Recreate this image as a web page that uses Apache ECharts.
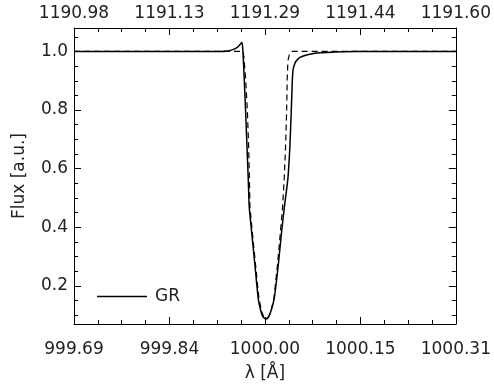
<!DOCTYPE html>
<html>
<head>
<meta charset="utf-8">
<script src="https://cdn.jsdelivr.net/npm/echarts@6/dist/echarts.min.js"></script>
<style>
  html, body { margin: 0; padding: 0; background: #fff; }
  #chart { width: 494px; height: 387px; }
</style>
</head>
<body>
<div id="chart"></div>
<script>
// wavelength offsets from 1000.00 A
const grLambda = [-0.31, -0.073, -0.0601, -0.0519, -0.0454, -0.0406, -0.0378, -0.0365, -0.0352, -0.0336,
  -0.0313, -0.0292, -0.0271, -0.0255, -0.0216, -0.0162, -0.0109, -0.0065, -0.0032, 0.0008,
  0.0049, 0.0097, 0.0151, 0.0216, 0.0271, 0.0316, 0.0373, 0.0406, 0.0427, 0.0446,
  0.0459, 0.0495, 0.0536, 0.0568, 0.0649, 0.073, 0.0893, 0.1136, 0.1461, 0.31];
const grFlux = [1.0, 1.0, 1.0017, 1.0061, 1.0129, 1.0231, 1.0306, 1.0214, 0.9806, 0.9058,
  0.7925, 0.6789, 0.5656, 0.4694, 0.3854, 0.2697, 0.1575, 0.1133, 0.0946, 0.0871,
  0.0912, 0.1133, 0.1575, 0.2697, 0.3854, 0.4694, 0.5656, 0.6789, 0.7925, 0.9058,
  0.9398, 0.9636, 0.9738, 0.9796, 0.9864, 0.9908, 0.9952, 0.9983, 0.9997, 1.0];

const refLambda = [-0.31, -0.0357, -0.0341, -0.0313, -0.0284, -0.0265, -0.0252, -0.0243, -0.0206, -0.0151,
  -0.0097, -0.0054, -0.0021, 0.0016, 0.0057, 0.0097, 0.0146, 0.0203, 0.0252, 0.0287,
  0.0313, 0.0336, 0.0352, 0.0362, 0.0373, 0.0398, 0.0433, 0.31];
const refFlux = [1.0, 1.0, 0.9806, 0.9058, 0.7925, 0.6789, 0.5656, 0.4694, 0.3854, 0.2697,
  0.1575, 0.1133, 0.0946, 0.0871, 0.0929, 0.1133, 0.1575, 0.2697, 0.3854, 0.4694,
  0.5656, 0.6789, 0.7925, 0.9058, 0.967, 0.9908, 1.0, 1.0];

const bottomLabels = ['999.69', '999.84', '1000.00', '1000.15', '1000.31'];
const topLabels = ['1190.98', '1191.13', '1191.29', '1191.44', '1191.60'];

const xMin = -0.31, xMax = 0.31, xStep = 0.155;
const yMin = 0.07, yMax = 1.08;

const font = 'DejaVu Sans';
const ink = '#222';

function zip(xs, ys) {
  return xs.map((x, i) => [x, ys[i]]);
}

function xLabel(labels) {
  return (v) => {
    const i = Math.round((v - xMin) / xStep);
    return labels[i] ?? '';
  };
}

const tickStyle = { inside: true, length: 7, lineStyle: { color: '#000', width: 1 } };
const minorStyle = { show: true, splitNumber: 4, length: 4, lineStyle: { color: '#000', width: 1 } };
const lineAxis = { onZero: false, lineStyle: { color: '#000', width: 1 } };

function xAxis(position, labels, margin, extra) {
  return Object.assign({
    type: 'value',
    position: position,
    min: xMin,
    max: xMax,
    interval: xStep,
    axisLine: lineAxis,
    axisTick: tickStyle,
    minorTick: minorStyle,
    splitLine: { show: false },
    axisLabel: {
      formatter: xLabel(labels),
      margin: margin,
      fontFamily: font,
      fontSize: 17,
      color: ink,
      showMinLabel: true,
      showMaxLabel: true,
    },
  }, extra);
}

function yAxis(position, showLabels, extra) {
  return Object.assign({
    type: 'value',
    position: position,
    min: yMin,
    max: yMax,
    axisLine: lineAxis,
    axisTick: tickStyle,
    minorTick: minorStyle,
    splitLine: { show: false },
    axisLabel: {
      show: showLabels,
      margin: 6,
      fontFamily: font,
      fontSize: 17,
      color: ink,
      formatter: (v) => {
        const r = Math.round(v * 10) / 10;
        return Math.abs(r - v) < 1e-6 && r > 0.1 ? r.toFixed(1) : '';
      },
    },
  }, extra);
}

const chart = echarts.init(document.getElementById('chart'));

chart.setOption({
  animation: false,
  backgroundColor: '#fff',
  grid: { left: 74, right: 38, top: 28, bottom: 62 },
  legend: {
    data: [{ name: 'GR', icon: 'rect' }],
    left: 97,
    top: 288,
    padding: 0,
    itemWidth: 50,
    itemHeight: 1.6,
    itemStyle: { color: '#000' },
    textStyle: { fontFamily: font, fontSize: 17, color: ink, padding: [0, 0, 0, 3] },
  },
  xAxis: [
    xAxis('bottom', bottomLabels, 17, {
      name: 'λ [Å]',
      nameLocation: 'middle',
      nameGap: 41,
      nameTextStyle: { fontFamily: font, fontSize: 17, color: ink },
    }),
    xAxis('top', topLabels, 6, {}),
  ],
  yAxis: [
    yAxis('left', true, {
      name: 'Flux [a.u.]',
      nameLocation: 'middle',
      nameGap: 46,
      nameTextStyle: { fontFamily: font, fontSize: 17, color: ink },
    }),
    yAxis('right', false, {}),
  ],
  series: [
    {
      name: 'GR',
      type: 'line',
      data: zip(grLambda, grFlux),
      symbol: 'none',
      smooth: 0.15,
      color: '#000',
      lineStyle: { color: '#000', width: 1.5 },
      z: 3,
    },
    {
      name: 'ref',
      type: 'line',
      data: zip(refLambda, refFlux),
      symbol: 'none',
      color: '#000',
      lineStyle: { color: '#000', width: 1.2, type: [6, 4] },
      z: 2,
    },
  ],
});
</script>
</body>
</html>
